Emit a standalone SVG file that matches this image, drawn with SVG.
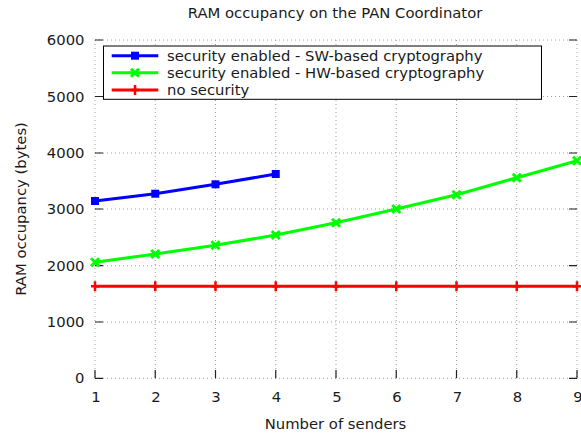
<svg xmlns="http://www.w3.org/2000/svg" width="581" height="434" viewBox="0 0 581 434">
<defs>
<style>
text{font-family:"DejaVu Sans",sans-serif;font-size:14.8px;fill:#1a1a1a}
.grid{stroke:#a0a0a0;stroke-width:1;stroke-dasharray:1,3;fill:none}
.tick{stroke:#222;stroke-width:1.2;fill:none}
.blue{stroke:#0000ff;stroke-width:3;fill:none}
.green{stroke:#00ff00;stroke-width:3;fill:none}
.red{stroke:#ff0000;stroke-width:3;fill:none}
</style>
<g id="mSq"><rect x="-4" y="-4" width="8" height="8" fill="#0000ff"/></g>
<g id="mX"><path d="M-4,-4L4,4M-4,4L4,-4" stroke="#00ff00" stroke-width="3"/></g>
<g id="mP"><path d="M0,-5V5M-4,0H4" stroke="#ff0000" stroke-width="2.5"/></g>
</defs>
<rect width="581" height="434" fill="#fff"/>
<text x="335" y="18" text-anchor="middle" font-size="14.5">RAM occupancy on the PAN Coordinator</text>
<g id="grid">
<path class="grid" d="M95,40H577M95,96.5H577M95,153H577M95,209H577M95,265.7H577M95,322H577M95,378.3H577"/>
<path class="grid" d="M95,40V378M155.25,40V378M215.5,40V378M275.75,40V378M336,40V378M396.25,40V378M456.5,40V378M516.75,40V378M577,40V378"/>
</g>
<g id="ticks">
<path class="tick" d="M95,40H103M95,96.5H103M95,153H103M95,209H103M95,265.7H103M95,322H103M95,378.3H103"/>
<path class="tick" d="M577,40H569M577,96.5H569M577,153H569M577,209H569M577,265.7H569M577,322H569M577,378.3H569"/>
<path class="tick" d="M95,378.3V370M155.25,378.3V370M215.5,378.3V370M275.75,378.3V370M336,378.3V370M396.25,378.3V370M456.5,378.3V370M516.75,378.3V370M577,378.3V370"/>
</g>
<g id="ylabels" text-anchor="end" font-size="14.5">
<text x="84.5" y="45">6000</text>
<text x="84.5" y="101.5">5000</text>
<text x="84.5" y="158">4000</text>
<text x="84.5" y="214">3000</text>
<text x="84.5" y="270.7">2000</text>
<text x="84.5" y="327">1000</text>
<text x="84.5" y="383.3">0</text>
</g>
<g id="xlabels" text-anchor="middle" font-size="14.5">
<text x="96" y="401.5">1</text>
<text x="156" y="401.5">2</text>
<text x="216" y="401.5">3</text>
<text x="276.5" y="401.5">4</text>
<text x="337" y="401.5">5</text>
<text x="397" y="401.5">6</text>
<text x="457.5" y="401.5">7</text>
<text x="517.5" y="401.5">8</text>
<text x="578" y="401.5">9</text>
</g>
<text x="335.5" y="428.5" text-anchor="middle">Number of senders</text>
<text transform="translate(26,209) rotate(-90)" text-anchor="middle">RAM occupancy (bytes)</text>
<g id="series-red">
<path class="red" d="M95,286.3H577"/>
<use href="#mP" x="95" y="286.3"/><use href="#mP" x="155.25" y="286.3"/><use href="#mP" x="215.5" y="286.3"/><use href="#mP" x="275.75" y="286.3"/><use href="#mP" x="336" y="286.3"/><use href="#mP" x="396.25" y="286.3"/><use href="#mP" x="456.5" y="286.3"/><use href="#mP" x="516.75" y="286.3"/><use href="#mP" x="577" y="286.3"/>
</g>
<g id="series-green">
<path class="green" d="M95,262.3L155.25,254L215.5,245.3L275.75,235L336,222.7L396.25,209L456.5,194.7L516.75,177.7L577,160.7"/>
<use href="#mX" x="95" y="262.3"/><use href="#mX" x="155.25" y="254"/><use href="#mX" x="215.5" y="245.3"/><use href="#mX" x="275.75" y="235"/><use href="#mX" x="336" y="222.7"/><use href="#mX" x="396.25" y="209"/><use href="#mX" x="456.5" y="194.7"/><use href="#mX" x="516.75" y="177.7"/><use href="#mX" x="577" y="160.7"/>
</g>
<g id="series-blue">
<path class="blue" d="M95,201L155.25,193.7L215.5,184.3L275.75,174"/>
<use href="#mSq" x="95" y="201"/><use href="#mSq" x="155.25" y="193.7"/><use href="#mSq" x="215.5" y="184.3"/><use href="#mSq" x="275.75" y="174"/>
</g>
<g id="legend">
<rect x="103.5" y="46" width="438" height="53.3" fill="#fff" stroke="#000" stroke-width="1"/>
<path class="blue" d="M111.7,55.7H158.3"/><use href="#mSq" x="135" y="55.7"/>
<path class="green" d="M111.7,72.7H158.3"/><use href="#mX" x="135" y="72.7"/>
<path class="red" d="M111.7,90H158.3"/><use href="#mP" x="135" y="90"/>
<text x="167" y="61">security enabled - SW-based cryptography</text>
<text x="167" y="78">security enabled - HW-based cryptography</text>
<text x="167" y="95.3">no security</text>
</g>
</svg>
